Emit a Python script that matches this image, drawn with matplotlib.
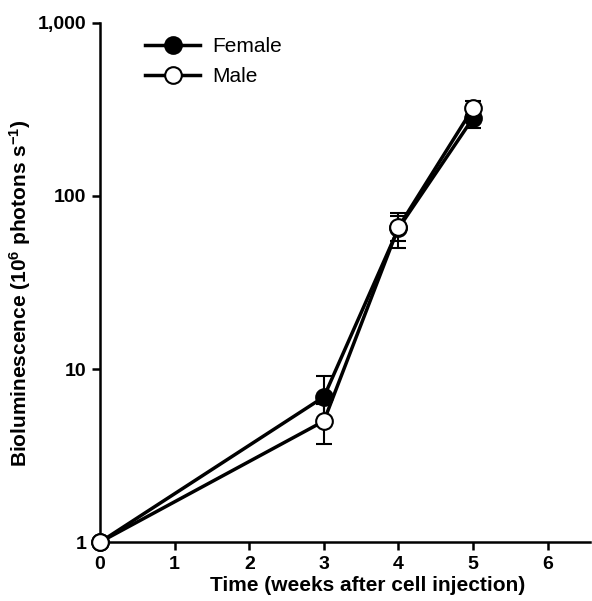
import matplotlib
matplotlib.use("Agg")
import matplotlib.pyplot as plt
from matplotlib.ticker import FixedLocator, NullLocator

plt.rcParams['font.family'] = ['Liberation Sans', 'DejaVu Sans']
plt.rcParams['mathtext.fontset'] = 'custom'
plt.rcParams['mathtext.rm'] = 'Liberation Sans:bold'
plt.rcParams['mathtext.it'] = 'Liberation Sans:bold'
plt.rcParams['mathtext.bf'] = 'Liberation Sans:bold'

weeks = [0, 3, 4, 5]
female = [1.0, 6.9, 65, 282]
female_err = [0.0, 2.2, 15, 35]
male = [1.0, 5.0, 66, 322]
male_err = [0.0, 1.3, 11, 30]

xticks = [0, 1, 2, 3, 4, 5, 6]
yticks = [1, 10, 100, 1000]
ytick_labels = ["1", "10", "100", "1,000"]

fig = plt.figure(figsize=(5.92, 6.01), dpi=100)
ax = fig.add_axes([0.169, 0.098, 0.828, 0.864])

ax.errorbar(weeks, female, yerr=female_err, fmt='none',
            ecolor='black', elinewidth=1.5, capsize=6, capthick=1.5,
            clip_on=False, zorder=2)
ax.errorbar(weeks, male, yerr=male_err, fmt='none',
            ecolor='black', elinewidth=1.5, capsize=6, capthick=1.5,
            clip_on=False, zorder=2)
ax.plot(weeks, female, color='black', lw=2.5, marker='o', ms=12,
        mfc='black', mec='black', mew=1.5, label='Female', clip_on=False, zorder=3)
ax.plot(weeks, male, color='black', lw=2.5, marker='o', ms=12,
        mfc='white', mec='black', mew=1.5, label='Male', clip_on=False, zorder=4)

ax.set_yscale('log')
ax.set_ylim(1, 1000)
ax.set_xlim(0, 6.57)
ax.yaxis.set_major_locator(FixedLocator(yticks))
ax.yaxis.set_minor_locator(NullLocator())
ax.set_yticklabels(ytick_labels)
ax.set_xticks(xticks)

for s in ['top', 'right']:
    ax.spines[s].set_visible(False)
for s in ['left', 'bottom']:
    ax.spines[s].set_linewidth(1.8)
ax.tick_params(axis='both', width=1.8, length=6, labelsize=14, pad=4)
for lab in ax.get_xticklabels() + ax.get_yticklabels():
    lab.set_fontweight('bold')

ax.set_xlabel('Time (weeks after cell injection)', fontsize=15, fontweight='bold')
ax.xaxis.set_label_coords(0.545, -0.083, transform=ax.transAxes)
ax.xaxis.label.set_verticalalignment('center')
ax.set_ylabel('Bioluminescence (10$^{6}$ photons s$^{-1}$)', fontsize=15, fontweight='bold')
ax.yaxis.set_label_coords(-0.163, 0.48, transform=ax.transAxes)
ax.yaxis.label.set_verticalalignment('center')

ax.legend(loc='upper left', bbox_to_anchor=(0.092, 0.973), borderaxespad=0,
          borderpad=0, frameon=False, fontsize=15, handlelength=2.64,
          labelspacing=0.55, handletextpad=0.58)

fig.savefig('out.png', dpi=100)
